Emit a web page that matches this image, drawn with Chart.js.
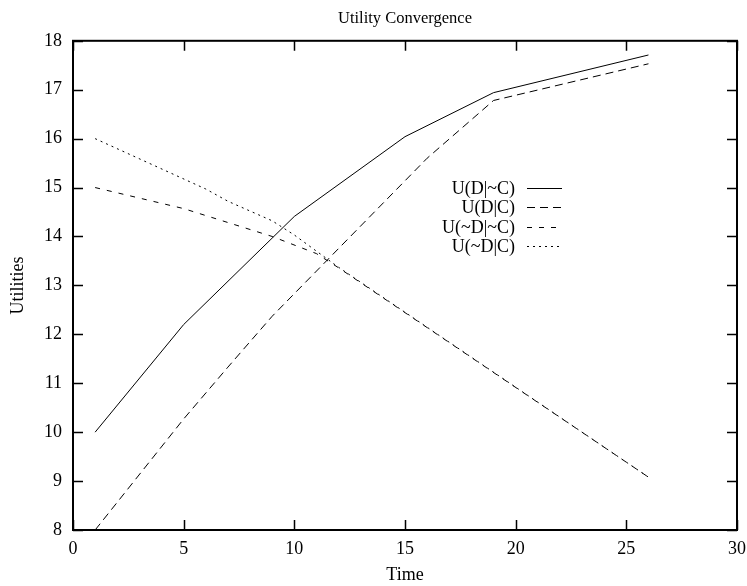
<!DOCTYPE html>
<html><head><meta charset="utf-8">
<script src="https://cdn.jsdelivr.net/npm/chart.js@4"></script>
<style>html,body{margin:0;padding:0;background:#fff}#wrap{width:747px;height:586px}</style>
</head><body><div id="wrap"><canvas id="c" width="747" height="586"></canvas></div>
<script>
// ---- data ----
const titleText = 'Utility Convergence';
const xTitle = 'Time';
const yTitle = 'Utilities';
const seriesLabels = ['U(D|~C)', 'U(D|C)', 'U(~D|~C)', 'U(~D|C)'];

const timeDnotC = [1, 5, 10, 15, 19, 26];
const utilDnotC = [10, 12.2, 14.41, 16.04, 16.94, 17.71];

const timeDC = [1, 5, 7, 9, 16, 19, 26];
const utilDC = [8, 10.27, 11.33, 12.37, 15.6, 16.78, 17.53];

const timeNotDnotC = [1, 5, 9, 11, 12, 26];
const utilNotDnotC = [15, 14.57, 14.0, 13.65, 13.36, 9.08];

const timeNotDC = [1, 6, 7, 9, 10, 11, 12, 26];
const utilNotDC = [16, 14.97, 14.72, 14.32, 14.03, 13.7, 13.37, 9.08];

const xMin = 0, xMax = 30, xStep = 5;
const yMin = 8, yMax = 18, yStep = 1;

// ---- styles ----
const FAMILY = '"Liberation Serif", "DejaVu Serif", serif';
const FONT = {family: FAMILY, size: 18, weight: 'normal'};
const TITLE_FONT = {family: FAMILY, size: 16.5, weight: 'normal'};
const dashes = [[], [8, 5], [5, 7], [2, 4]];

const pts = (xs, ys) => xs.map((v, i) => ({x: v, y: ys[i]}));
const seriesData = [
  pts(timeDnotC, utilDnotC),
  pts(timeDC, utilDC),
  pts(timeNotDnotC, utilNotDnotC),
  pts(timeNotDC, utilNotDC)
];

const datasets = seriesLabels.map((lab, i) => ({
  label: lab,
  data: seriesData[i],
  borderColor: '#000',
  backgroundColor: '#000',
  borderWidth: 1,
  borderDash: dashes[i],
  pointRadius: 0,
  tension: 0,
  fill: false
}));

const gnuFrame = {
  id: 'gnuFrame',
  afterDatasetsDraw(chart) {
    const {ctx, chartArea: a, scales: {x, y}} = chart;
    ctx.save();
    ctx.strokeStyle = '#000';
    ctx.lineWidth = 1.5;
    ctx.setLineDash([]);
    ctx.beginPath();
    x.ticks.forEach(t => {
      const px = Math.round(x.getPixelForValue(t.value)) + 0.5;
      ctx.moveTo(px, a.bottom); ctx.lineTo(px, a.bottom - 10);
      ctx.moveTo(px, a.top); ctx.lineTo(px, a.top + 10);
    });
    y.ticks.forEach(t => {
      const py = Math.round(y.getPixelForValue(t.value)) + 0.5;
      ctx.moveTo(a.left, py); ctx.lineTo(a.left + 10, py);
      ctx.moveTo(a.right, py); ctx.lineTo(a.right - 10, py);
    });
    ctx.stroke();
    ctx.lineWidth = 2;
    ctx.strokeRect(a.left, a.top, a.right - a.left, a.bottom - a.top);

    // key (legend), gnuplot style
    ctx.font = FONT.size + 'px ' + FONT.family;
    ctx.fillStyle = '#000';
    ctx.textAlign = 'right';
    ctx.textBaseline = 'middle';
    chart.data.datasets.forEach((ds, i) => {
      const ly = a.top + 147 + i * 19.5;
      ctx.fillText(ds.label, a.left + 442, ly + 1);
      ctx.lineWidth = 1;
      ctx.setLineDash(ds.borderDash || []);
      ctx.beginPath();
      ctx.moveTo(a.left + 454, Math.round(ly) + 0.5);
      ctx.lineTo(a.left + 489, Math.round(ly) + 0.5);
      ctx.stroke();
    });
    ctx.restore();
  }
};

new Chart(document.getElementById('c'), {
  type: 'line',
  data: {datasets},
  options: {
    responsive: false,
    animation: false,
    devicePixelRatio: 1,
    layout: {padding: {left: 0, right: 10, top: 0, bottom: 0}},
    plugins: {
      legend: {display: false},
      tooltip: {enabled: false},
      title: {display: true, fullSize: false, text: titleText, color: '#000', font: TITLE_FONT, padding: {top: 9, bottom: 12}}
    },
    scales: {
      x: {
        type: 'linear', min: xMin, max: xMax,
        ticks: {stepSize: xStep, color: '#000', font: FONT, padding: 8, maxRotation: 0},
        grid: {display: false, drawTicks: false},
        border: {display: false},
        title: {display: true, text: xTitle, color: '#000', font: FONT, padding: {top: 0, bottom: 0}},
        afterFit(s) { s.height = 56; s.paddingLeft = 0; s.paddingRight = 0; }
      },
      y: {
        type: 'linear', min: yMin, max: yMax,
        ticks: {stepSize: yStep, color: '#000', font: FONT, padding: 11},
        grid: {display: false, drawTicks: false},
        border: {display: false},
        title: {display: true, text: yTitle, color: '#000', font: FONT, padding: {top: 7, bottom: 0}},
        afterFit(s) { s.width = 73; }
      }
    }
  },
  plugins: [gnuFrame]
});
</script></body></html>
